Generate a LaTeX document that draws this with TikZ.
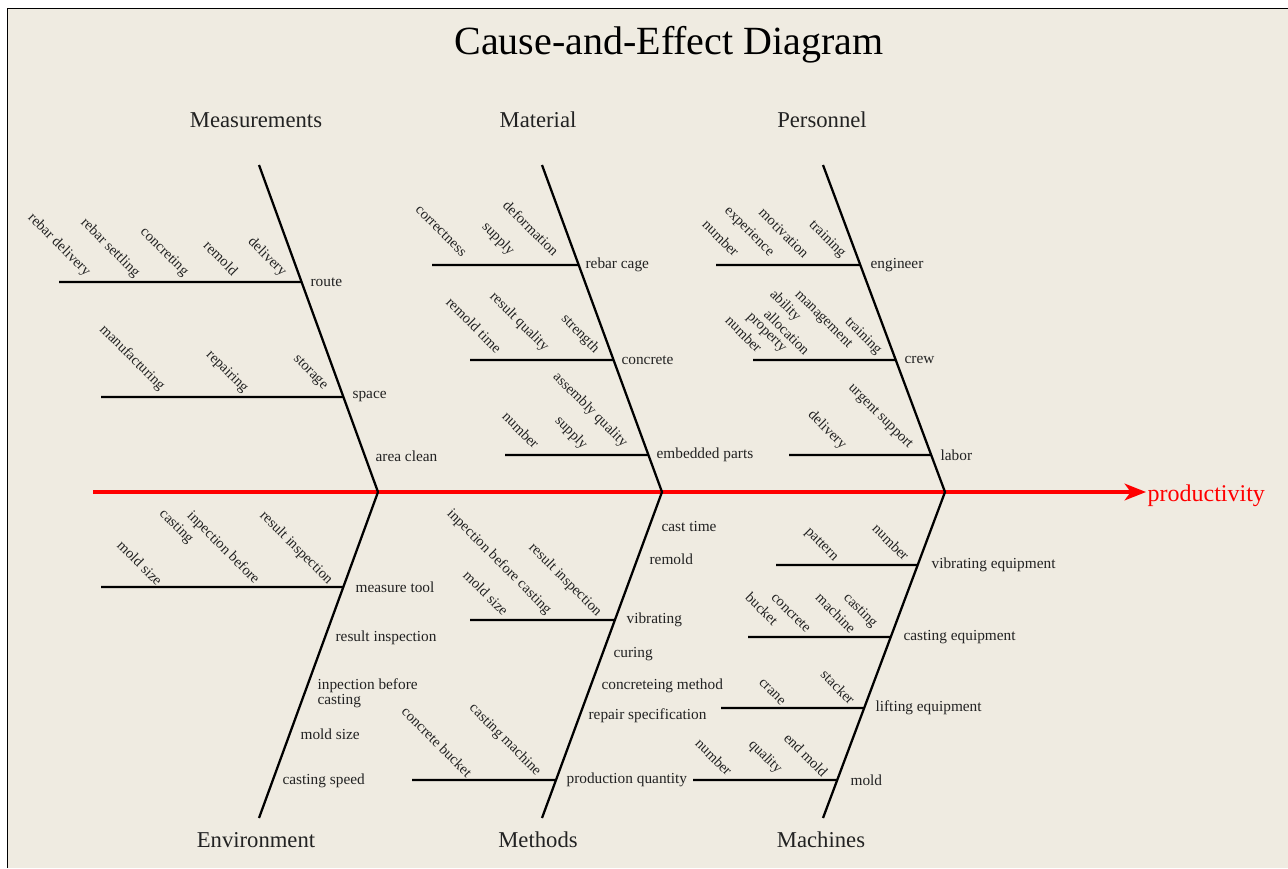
\documentclass[tikz,border=0pt]{standalone}
\usepackage{fontspec}
\setmainfont{Liberation Serif}
\usetikzlibrary{arrows.meta}
\definecolor{paper}{HTML}{EFEBE1}
\definecolor{ink}{HTML}{222222}
\tikzset{
  bone/.style={line width=1.7pt},
  spine/.style={red, line width=2.6pt, -{Stealth[length=16pt,width=12.5pt,inset=4.5pt]}},
  title/.style={font=\fontsize{30}{34}\selectfont, text=black},
  cat/.style={font=\fontsize{17}{20}\selectfont, text=ink},
  lab/.style={anchor=west, inner sep=1pt, align=left, font=\fontsize{11.5}{11.5}\selectfont, text=ink},
  rot/.style={rotate=-45, inner sep=0pt, font=\fontsize{11}{12}\selectfont, text=ink},
}

\begin{document}
\begin{tikzpicture}[x=0.75pt,y=-0.75pt]
\useasboundingbox (0,0) rectangle (1288,868);
\fill[white] (0,0) rectangle (1288,868);
\fill[paper] (7.5,8.5) rectangle (1288,868);
\draw[line width=1pt] (7.5,868) -- (7.5,8.5) -- (1288,8.5);

\node[title] (title) at (669,45) {Cause-and-Effect Diagram};

% categories
\node[cat] (measurements) at (256,120) {Measurements};
\node[cat] (material) at (538,120) {Material};
\node[cat] (personnel) at (822,120) {Personnel};
\node[cat] (environment) at (256,840) {Environment};
\node[cat] (methods) at (538,840) {Methods};
\node[cat] (machines) at (821,840) {Machines};

% spine
\coordinate (tail) at (93,492);
\node[lab,text=red,font=\fontsize{18}{20}\selectfont] (prod) at (1146,496) {productivity};
\draw[spine] (tail) -- (prod.west |- tail);

% main bones
\coordinate (meas) at (259,165);
\coordinate (mat) at (542,165);
\coordinate (pers) at (823,165);
\coordinate (j1) at (378,492);
\coordinate (j2) at (662,492);
\coordinate (j3) at (945,492);
\coordinate (env) at (259,818);
\coordinate (meth) at (542,818);
\coordinate (mach) at (823,818);
\draw[bone] (meas) -- (j1) -- (env);
\draw[bone] (mat) -- (j2) -- (meth);
\draw[bone] (pers) -- (j3) -- (mach);

% Measurements
\coordinate (route-l) at (59,282);
\node[lab] (route) at (309,282) {route};
\draw[bone] (route-l) -- (intersection of meas--j1 and route-l--route.west);
\node[rot] (r1) at (59,245) {rebar delivery};
\node[rot] (r2) at (110,248) {rebar settling};
\node[rot] (r3) at (164,252) {concreting};
\node[rot] (r4) at (221,258) {remold};
\node[rot] (r5) at (267,257) {delivery};
\coordinate (space-l) at (101,397);
\node[lab] (space) at (351,397) {space};
\draw[bone] (space-l) -- (intersection of meas--j1 and space-l--space.west);
\node[rot] (s1) at (132,358) {manufacturing};
\node[rot] (s2) at (227,372) {repairing};
\node[rot] (s3) at (310,373) {storage};
\node[lab] (clean) at (374,456) {area clean};

% Material
\coordinate (cage-l) at (432,265);
\node[lab] (cage) at (584,265) {rebar cage};
\draw[bone] (cage-l) -- (intersection of mat--j2 and cage-l--cage.west);
\node[rot] (c1) at (441,231) {correctness};
\node[rot] (c2) at (498,239) {supply};
\node[rot] (c3) at (531,228) {deformation};
\coordinate (concrete-l) at (470,360);
\node[lab] (concrete) at (620,360) {concrete};
\draw[bone] (concrete-l) -- (intersection of mat--j2 and concrete-l--concrete.west);
\node[rot] (k1) at (474,325) {remold time};
\node[rot] (k2) at (519,322) {result quality};
\node[rot] (k3) at (580,334) {strength};
\coordinate (parts-l) at (505,455);
\node[lab] (parts) at (655,455) {embedded parts};
\draw[bone] (parts-l) -- (intersection of mat--j2 and parts-l--parts.west);
\node[rot] (p1) at (521,430) {number};
\node[rot] (p2) at (571,433) {supply};
\node[rot] (p3) at (590,410) {assembly quality};

% Personnel
\coordinate (eng-l) at (716,265);
\node[lab] (eng) at (869,265) {engineer};
\draw[bone] (eng-l) -- (intersection of pers--j3 and eng-l--eng.west);
\node[rot] (e1) at (721,238) {number};
\node[rot] (e2) at (749,232) {experience};
\node[rot] (e3) at (784,233) {motivation};
\node[rot] (e4) at (827,239) {training};
\coordinate (crew-l) at (753,360);
\node[lab] (crew) at (903,360) {crew};
\draw[bone] (crew-l) -- (intersection of pers--j3 and crew-l--crew.west);
\node[rot] (w1) at (744,334) {number};
\node[rot] (w2) at (766,333) {property};
\node[rot] (w3) at (787,332) {allocation};
\node[rot] (w4) at (785,306) {ability};
\node[rot] (w5) at (823,320) {management};
\node[rot] (w6) at (863,336) {training};
\coordinate (labor-l) at (789,455);
\node[lab] (labor) at (939,455) {labor};
\draw[bone] (labor-l) -- (intersection of pers--j3 and labor-l--labor.west);
\node[rot] (l1) at (827,430) {delivery};
\node[rot] (l2) at (880,417) {urgent support};

% Environment
\coordinate (tool-l) at (101,587);
\node[lab] (tool) at (354,587) {measure tool};
\draw[bone] (tool-l) -- (intersection of j1--env and tool-l--tool.west);
\node[rot] (t1) at (140,563) {mold size};
\node[rot] (t2) at (176,527) {casting};
\node[rot] (t3) at (223,548) {inpection before};
\node[rot] (t4) at (296,548) {result inspection};
\node[lab] (resinsp) at (334,638) {result inspection};
\node[lab] (inpect) at (316,693) {inpection before\\casting};
\node[lab] (moldsize) at (299,734) {mold size};
\node[lab] (speed) at (281,781) {casting speed};

% Methods
\node[lab] (casttime) at (660,526) {cast time};
\node[lab] (remold) at (648,559) {remold};
\coordinate (vib-l) at (470,620);
\node[lab] (vib) at (625,620) {vibrating};
\draw[bone] (vib-l) -- (intersection of j2--meth and vib-l--vib.west);
\node[rot] (v1) at (486,593) {mold size};
\node[rot] (v2) at (499,562) {inpection before casting};
\node[rot] (v3) at (565,580) {result inspection};
\node[lab] (curing) at (612,654) {curing};
\node[lab] (cmethod) at (600,686) {concreteing method};
\node[lab] (repair) at (587,716) {repair specification};
\coordinate (qty-l) at (412,780);
\node[lab] (qty) at (565,780) {production quantity};
\draw[bone] (qty-l) -- (intersection of j2--meth and qty-l--qty.west);
\node[rot] (q1) at (437,742) {concrete bucket};
\node[rot] (q2) at (505,740) {casting machine};

% Machines
\coordinate (veq-l) at (776,565);
\node[lab] (veq) at (930,565) {vibrating equipment};
\draw[bone] (veq-l) -- (intersection of j3--mach and veq-l--veq.west);
\node[rot] (a1) at (821,545) {pattern};
\node[rot] (a2) at (891,542) {number};
\coordinate (ceq-l) at (748,637);
\node[lab] (ceq) at (902,637) {casting equipment};
\draw[bone] (ceq-l) -- (intersection of j3--mach and ceq-l--ceq.west);
\node[rot] (b1) at (762,609) {bucket};
\node[rot] (b2) at (791,613) {concrete};
\node[rot] (b3) at (836,613) {machine};
\node[rot] (b4) at (860,611) {casting};
\coordinate (leq-l) at (721,708);
\node[lab] (leq) at (874,708) {lifting equipment};
\draw[bone] (leq-l) -- (intersection of j3--mach and leq-l--leq.west);
\node[rot] (d1) at (772,692) {crane};
\node[rot] (d2) at (838,687) {stacker};
\coordinate (mold-l) at (693,780);
\node[lab] (mold) at (849,780) {mold};
\draw[bone] (mold-l) -- (intersection of j3--mach and mold-l--mold.west);
\node[rot] (m1) at (714,757) {number};
\node[rot] (m2) at (765,757) {quality};
\node[rot] (m3) at (806,755) {end mold};
\end{tikzpicture}
\end{document}
